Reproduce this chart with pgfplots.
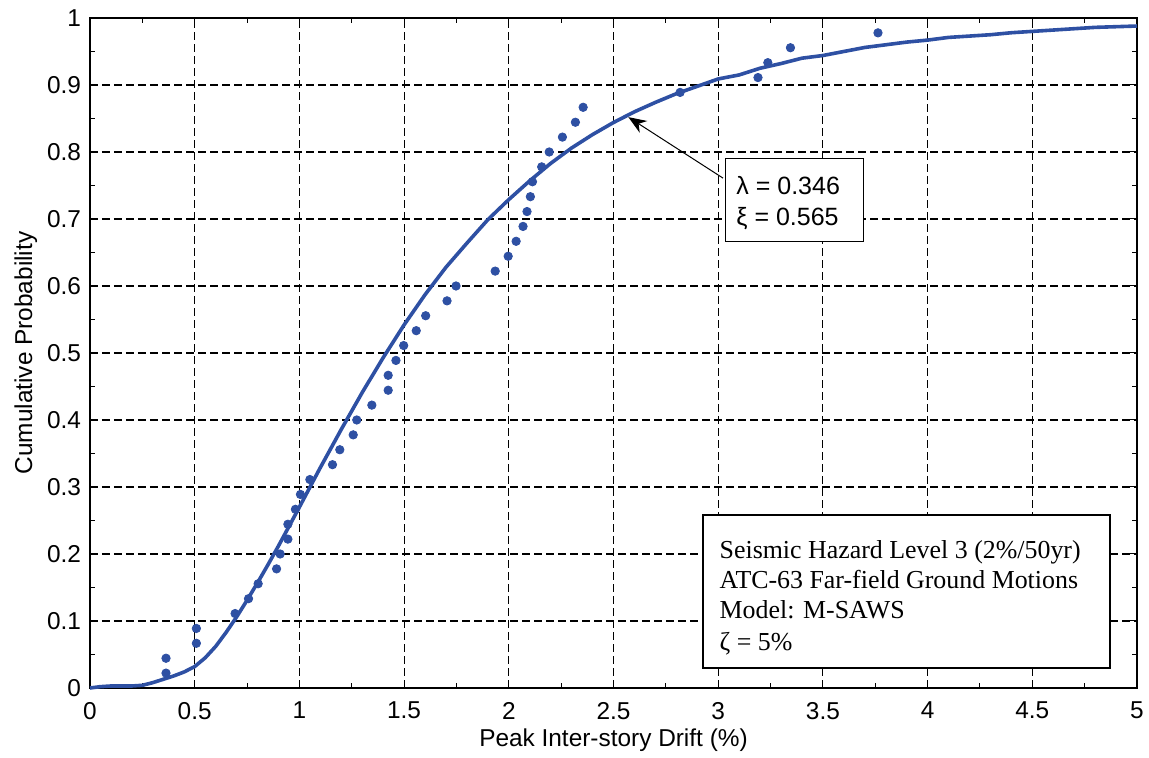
\documentclass[border=0pt]{standalone}
\usepackage{pgfplots}
\pgfplotsset{compat=1.18}
\usepackage{fontspec}
\setmainfont{Liberation Sans}
\newfontfamily\timesfont{Liberation Serif}
\usetikzlibrary{arrows.meta}
\definecolor{cblue}{RGB}{46,80,163}

\pgfplotstableread{
x y
0.363 0.0222
0.363 0.0444
0.508 0.0667
0.508 0.0889
0.693 0.1111
0.757 0.1333
0.803 0.1556
0.891 0.1778
0.908 0.2000
0.945 0.2222
0.945 0.2444
0.981 0.2667
1.005 0.2889
1.050 0.3111
1.158 0.3333
1.193 0.3556
1.257 0.3778
1.274 0.4000
1.346 0.4222
1.424 0.4444
1.424 0.4667
1.461 0.4889
1.498 0.5111
1.558 0.5333
1.603 0.5556
1.705 0.5778
1.748 0.6000
1.935 0.6222
1.997 0.6444
2.035 0.6667
2.068 0.6889
2.087 0.7111
2.103 0.7333
2.113 0.7556
2.157 0.7778
2.193 0.8000
2.256 0.8222
2.318 0.8444
2.355 0.8667
2.818 0.8889
3.190 0.9111
3.237 0.9333
3.345 0.9556
3.763 0.9778
}\pointsdata

\pgfplotstableread{
x y
0 0
0.05 0.002
0.1 0.003
0.2 0.003
0.25 0.004
0.3 0.008
0.35 0.013
0.4 0.018
0.45 0.024
0.5 0.032
0.55 0.045
0.6 0.062
0.65 0.083
0.7 0.106
0.75 0.131
0.8 0.157
0.85 0.184
0.9 0.212
0.95 0.241
1.0 0.270
1.1 0.329
1.2 0.386
1.3 0.441
1.4 0.493
1.5 0.542
1.6 0.587
1.7 0.628
1.8 0.664
1.9 0.699
2.0 0.729
2.1 0.757
2.2 0.783
2.3 0.806
2.4 0.826
2.5 0.844
2.6 0.860
2.7 0.874
2.8 0.887
2.9 0.898
3.0 0.909
3.1 0.915
3.2 0.925
3.3 0.932
3.4 0.940
3.5 0.944
3.6 0.950
3.7 0.956
3.8 0.960
3.9 0.964
4.0 0.967
4.1 0.971
4.2 0.973
4.3 0.975
4.4 0.978
4.5 0.980
4.6 0.982
4.7 0.984
4.8 0.986
4.9 0.987
5.0 0.988
}\curvedata

\begin{document}
\begin{tikzpicture}
\begin{axis}[
  scale only axis,
  width=523.5pt, height=335pt,
  xmin=0, xmax=5, ymin=0, ymax=1,
  xtick={0,0.5,...,5}, ytick={0,0.1,...,1},
  minor x tick num=1, minor y tick num=1,
  xticklabels={0,0.5,1,1.5,2,2.5,3,3.5,4,4.5,5},
  yticklabels={0,0.1,0.2,0.3,0.4,0.5,0.6,0.7,0.8,0.9,1},
  /pgf/number format/assume math mode=true,
  tick align=inside,
  major tick length=3.5pt, minor tick length=2.5pt,
  tick style={black, line width=0.5pt},
  xmajorgrids, ymajorgrids,
  major grid style={black, line width=0.55pt, dash pattern=on 4pt off 2pt},
  axis line style={black, line width=0.6pt},
  ticklabel style={font=\fontsize{12.2}{14}\selectfont},
  xticklabel style={yshift=-3.5pt},
  yticklabel style={xshift=-1pt},
  xlabel={Peak Inter-story Drift (\%)},
  ylabel={Cumulative Probability},
  label style={font=\fontsize{12.2}{14}\selectfont},
  xlabel style={yshift=2pt},
  ylabel style={yshift=-2pt},
  clip=false,
]
\addplot[cblue, line width=1.8pt, line join=round] table[x=x,y=y] {\curvedata};
\addplot[only marks, mark=*, mark size=2.1pt, cblue, mark options={draw=cblue, fill=cblue}] table[x=x,y=y] {\pointsdata};

% annotation arrow + box
\draw[black, line width=0.5pt, -{Stealth[length=9pt,width=7pt]}] (axis cs:3.023,0.761) -- (axis cs:2.571,0.852);
\draw[black, line width=0.5pt, fill=white] (axis cs:3.0325,0.791) rectangle (axis cs:3.6915,0.667);
\node[anchor=base west, inner sep=0pt, font=\fontsize{12.5}{15}\selectfont] at (axis cs:3.085,0.737) {λ = 0.346};
\node[anchor=base west, inner sep=0pt, font=\fontsize{12.5}{15}\selectfont] at (axis cs:3.085,0.690) {ξ = 0.565};

% info box
\draw[black, line width=1pt, fill=white] (axis cs:2.927,0.258) rectangle (axis cs:4.871,0.0299);
\node[anchor=base west, inner sep=0pt, font=\timesfont\fontsize{12.95}{15}\selectfont] at (axis cs:3.005,0.194) {Seismic Hazard Level 3 (2\%/50yr)};
\node[anchor=base west, inner sep=0pt, font=\timesfont\fontsize{12.95}{15}\selectfont] at (axis cs:3.005,0.149) {ATC-63 Far-field Ground Motions};
\node[anchor=base west, inner sep=0pt, font=\timesfont\fontsize{12.95}{15}\selectfont] at (axis cs:3.005,0.103) {Model: M-SAWS};
\node[anchor=base west, inner sep=0pt, font=\timesfont\fontsize{12.95}{15}\selectfont] at (axis cs:3.005,0.0567) {ζ = 5\%};
\end{axis}
\pgfresetboundingbox
\path[use as bounding box] ([shift={(-45pt,-35pt)}]current axis.south west) rectangle ([shift={(6pt,9pt)}]current axis.north east);
\end{tikzpicture}
\end{document}
